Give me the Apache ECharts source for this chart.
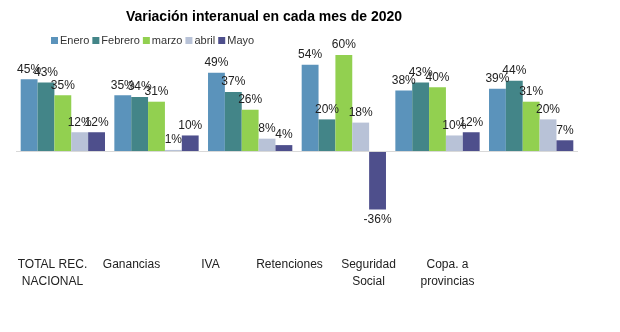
<!DOCTYPE html>
<html><head><meta charset="utf-8">
<script src="https://cdn.jsdelivr.net/npm/echarts@6/dist/echarts.min.js"></script>
<style>html,body{margin:0;padding:0;background:#fff}#c{width:620px;height:332px}</style>
</head><body><div id="c"></div>
<script>
const title = 'Variación interanual en cada mes de 2020';
const categories = ['TOTAL REC.\nNACIONAL', 'Ganancias', 'IVA', 'Retenciones', 'Seguridad\nSocial', 'Copa. a\nprovincias'];
const seriesNames = ['Enero', 'Febrero', 'marzo', 'abril', 'Mayo'];
const enero   = [45, 35, 49, 54, 38, 39];
const febrero = [43, 34, 37, 20, 43, 44];
const marzo   = [35, 31, 26, 60, 40, 31];
const abril   = [12, 1, 8, 18, 10, 20];
const mayo    = [12, 10, 4, -36, 12, 7];
const colors = ['#5b93bb', '#438588', '#92d050', '#b8c2d7', '#4e4f8c'];
const values = [enero, febrero, marzo, abril, mayo];

const font = 'Liberation Sans, Arial, sans-serif';
const chart = echarts.init(document.getElementById('c'));
const series = seriesNames.map((n, i) => ({
  name: n, type: 'bar', data: values[i], xAxisIndex: 0, yAxisIndex: 0,
  barGap: '0%', barCategoryGap: '10%',
  itemStyle: { color: colors[i] },
  label: { show: true, position: 'outside', distance: 4, formatter: '{c}%', color: '#222', fontSize: 12, fontFamily: font },
  markLine: i === 0 ? { silent: true, symbol: 'none', label: { show: false },
    lineStyle: { color: '#d9d9d9', width: 1, type: 'solid' }, data: [{ yAxis: 0 }] } : undefined
}));
chart.setOption({
  animation: false,
  title: { text: title, left: 259, textAlign: 'center', top: 5,
    textStyle: { fontSize: 14, fontWeight: 'bold', color: '#000', fontFamily: font } },
  legend: { data: seriesNames, left: 46, top: 30, itemWidth: 7, itemHeight: 7, itemGap: 3,
    icon: 'rect', textStyle: { fontSize: 11, color: '#333', fontFamily: font, padding: [0, 0, 0, -3] } },
  grid: [
    { left: 16, right: 42, top: 39, height: 209 },
    { left: 13, right: 133, top: 39, height: 209 }
  ],
  xAxis: [
    { type: 'category', gridIndex: 0, data: categories, axisLine: { show: false }, axisTick: { show: false }, axisLabel: { show: false } },
    { type: 'category', gridIndex: 1, data: categories, axisLine: { show: false }, axisTick: { show: false },
      axisLabel: { color: '#222', fontSize: 12, fontFamily: font, lineHeight: 17, margin: 8, interval: 0 } }
  ],
  yAxis: [
    { type: 'value', gridIndex: 0, min: -60, max: 70, show: false, splitLine: { show: false } },
    { type: 'value', gridIndex: 1, min: -60, max: 70, show: false, splitLine: { show: false } }
  ],
  series: series
});
</script></body></html>
